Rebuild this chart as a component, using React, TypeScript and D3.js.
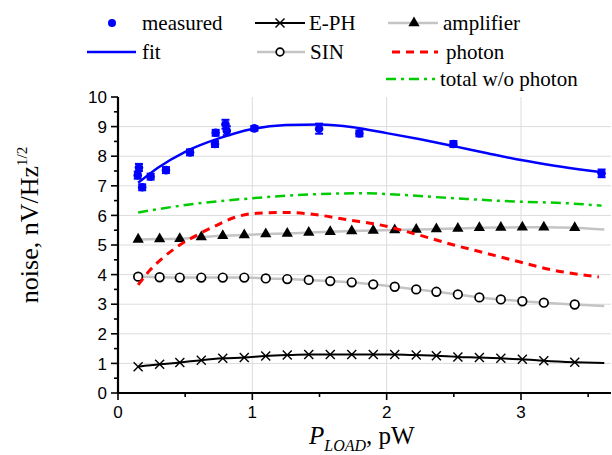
import React from 'react';
import * as d3 from 'd3';

// measured points (x in pW, y in nV/Hz^1/2, err = half error bar)
const measX = [0.147, 0.156, 0.18, 0.243, 0.357, 0.536, 0.722, 0.727, 0.8, 0.81, 1.015, 1.497, 1.797, 2.497, 3.6];
const measY = [7.36, 7.62, 6.95, 7.31, 7.53, 8.13, 8.41, 8.79, 9.08, 8.86, 8.94, 8.93, 8.77, 8.41, 7.42];
const measErr = [0.12, 0.12, 0.1, 0.1, 0.1, 0.1, 0.1, 0.1, 0.15, 0.15, 0.08, 0.17, 0.1, 0.1, 0.13];

// fit curve
const fitX = [0.15, 0.3, 0.5, 0.75, 1.0, 1.25, 1.5, 1.75, 2.0, 2.25, 2.5, 2.75, 3.0, 3.25, 3.5, 3.62];
const fitY = [7.1, 7.62, 8.15, 8.6, 8.92, 9.05, 9.07, 8.98, 8.78, 8.57, 8.34, 8.1, 7.87, 7.68, 7.52, 7.45];

// photon noise
const photonX = [0.15, 0.24, 0.33, 0.46, 0.59, 0.75, 0.86, 1.03, 1.25, 1.48, 1.71, 1.95, 2.2, 2.5, 2.69, 2.98, 3.23, 3.58];
const photonY = [3.65, 4.16, 4.55, 5.0, 5.34, 5.7, 5.92, 6.07, 6.1, 6.02, 5.85, 5.68, 5.39, 5.0, 4.78, 4.44, 4.16, 3.92];

// total w/o photon
const totalX = [0.15, 0.5, 1.0, 1.5, 1.85, 2.0, 2.5, 3.0, 3.3, 3.6];
const totalY = [6.1, 6.35, 6.58, 6.72, 6.75, 6.72, 6.58, 6.46, 6.42, 6.33];

// marker positions shared by amplifier / SIN / E-PH, plus end of line
const markX = [0.15, 0.31, 0.46, 0.62, 0.78, 0.94, 1.1, 1.26, 1.42, 1.58, 1.74, 1.9, 2.06, 2.22, 2.37, 2.53, 2.69, 2.85, 3.01, 3.17, 3.4];
const lineEndX = 3.62;
const ampY = [5.19, 5.2, 5.21, 5.27, 5.31, 5.34, 5.37, 5.39, 5.42, 5.45, 5.47, 5.49, 5.51, 5.52, 5.54, 5.56, 5.58, 5.59, 5.6, 5.6, 5.58];
const ampEnd = 5.52;
const sinY = [3.93, 3.91, 3.9, 3.9, 3.9, 3.9, 3.87, 3.85, 3.82, 3.78, 3.74, 3.67, 3.59, 3.5, 3.42, 3.33, 3.23, 3.16, 3.1, 3.05, 2.99];
const sinEnd = 2.94;
const ephY = [0.89, 0.97, 1.03, 1.11, 1.17, 1.2, 1.25, 1.28, 1.3, 1.3, 1.3, 1.3, 1.3, 1.28, 1.26, 1.22, 1.2, 1.17, 1.14, 1.09, 1.04];
const ephEnd = 1.01;

const xTicks = [0, 1, 2, 3];
const yTicks = [0, 1, 2, 3, 4, 5, 6, 7, 8, 9, 10];

const W = 612;
const H = 455;
const BLUE = '#0000ff';
const GRAY = '#c4c4c4';
const SERIF = '"Liberation Serif", "Times New Roman", serif';
const SANS = '"Liberation Sans", Arial, sans-serif';

const x = d3.scaleLinear().domain([0, 3.67]).range([118, 611]);
const y = d3.scaleLinear().domain([0, 10]).range([393, 97]);

const line = d3
  .line<[number, number]>()
  .x(d => x(d[0]))
  .y(d => y(d[1]))
  .curve(d3.curveMonotoneX);

const zip = (xs: number[], ys: number[]) => xs.map((v, i) => [v, ys[i]] as [number, number]);

const tri = d3.symbol().type(d3.symbolTriangle).size(55)();

const Cross = ({ cx, cy }: { cx: number; cy: number }) => (
  <g stroke="black" strokeWidth={1.4}>
    <line x1={cx - 4.5} y1={cy - 4.5} x2={cx + 4.5} y2={cy + 4.5} />
    <line x1={cx - 4.5} y1={cy + 4.5} x2={cx + 4.5} y2={cy - 4.5} />
  </g>
);

export default function App() {
  const yMinor = d3.range(0.5, 10, 1);
  const xMinor = [0.5, 1.5, 2.5, 3.5];

  return (
    <svg width={W} height={H} style={{ position: 'absolute', left: 0, top: 0, background: 'white' }}>
      {/* grid */}
      <g stroke="#dcdcdc" strokeWidth={1}>
        {d3.range(1, 10).map(t => (
          <line key={'gy' + t} x1={x(0)} x2={x(3.67)} y1={y(t)} y2={y(t)} />
        ))}
        {[1, 2, 3].map(t => (
          <line key={'gx' + t} x1={x(t)} x2={x(t)} y1={y(0)} y2={y(10)} />
        ))}
      </g>

      {/* E-PH */}
      <path d={line([...zip(markX, ephY), [lineEndX, ephEnd]]) || ''} fill="none" stroke="black" strokeWidth={2} />
      {markX.map((v, i) => (
        <Cross key={'e' + i} cx={x(v)} cy={y(ephY[i])} />
      ))}

      {/* SIN */}
      <path d={line([...zip(markX, sinY), [lineEndX, sinEnd]]) || ''} fill="none" stroke={GRAY} strokeWidth={2.5} />
      {markX.map((v, i) => (
        <circle key={'s' + i} cx={x(v)} cy={y(sinY[i])} r={4.3} fill="white" stroke="black" strokeWidth={1.7} />
      ))}

      {/* amplifier */}
      <path d={line([...zip(markX, ampY), [lineEndX, ampEnd]]) || ''} fill="none" stroke={GRAY} strokeWidth={2.5} />
      {markX.map((v, i) => (
        <path key={'a' + i} d={tri || ''} transform={`translate(${x(v)},${y(ampY[i])})`} fill="black" />
      ))}

      {/* photon */}
      <path d={line(zip(photonX, photonY)) || ''} fill="none" stroke="#ff0000" strokeWidth={3} strokeDasharray="8,6" />

      {/* total w/o photon */}
      <path d={line(zip(totalX, totalY)) || ''} fill="none" stroke="#00cc00" strokeWidth={2.5} strokeDasharray="10,5,3,5" />

      {/* fit */}
      <path d={line(zip(fitX, fitY)) || ''} fill="none" stroke={BLUE} strokeWidth={2.5} />

      {/* measured */}
      {measX.map((v, i) => (
        <g key={'m' + i} stroke={BLUE} fill={BLUE}>
          <line x1={x(v)} x2={x(v)} y1={y(measY[i] - measErr[i])} y2={y(measY[i] + measErr[i])} strokeWidth={2} />
          <line x1={x(v) - 4} x2={x(v) + 4} y1={y(measY[i] - measErr[i])} y2={y(measY[i] - measErr[i])} strokeWidth={2} />
          <line x1={x(v) - 4} x2={x(v) + 4} y1={y(measY[i] + measErr[i])} y2={y(measY[i] + measErr[i])} strokeWidth={2} />
          <circle cx={x(v)} cy={y(measY[i])} r={4.3} stroke="none" />
        </g>
      ))}

      {/* axes */}
      <g stroke="black">
        <line x1={x(0)} x2={x(0)} y1={y(0) + 1} y2={y(10)} strokeWidth={2.2} />
        <line x1={x(0) - 1} x2={x(3.67)} y1={y(0)} y2={y(0)} strokeWidth={2.2} />
        {yTicks.map(t => (
          <line key={'yt' + t} x1={x(0) - 7} x2={x(0)} y1={y(t)} y2={y(t)} strokeWidth={1.6} />
        ))}
        {yMinor.map(t => (
          <line key={'ym' + t} x1={x(0) - 4} x2={x(0)} y1={y(t)} y2={y(t)} strokeWidth={1.6} />
        ))}
        {xTicks.map(t => (
          <line key={'xt' + t} x1={x(t)} x2={x(t)} y1={y(0)} y2={y(0) + 7} strokeWidth={1.6} />
        ))}
        {xMinor.map(t => (
          <line key={'xm' + t} x1={x(t)} x2={x(t)} y1={y(0)} y2={y(0) + 4} strokeWidth={1.6} />
        ))}
      </g>
      <g fontFamily={SANS} fontSize={17} fill="black">
        {yTicks.map(t => (
          <text key={'yl' + t} x={x(0) - 11} y={y(t)} dy="0.36em" textAnchor="end">
            {t}
          </text>
        ))}
        {xTicks.map(t => (
          <text key={'xl' + t} x={x(t)} y={y(0) + 25} textAnchor="middle">
            {t}
          </text>
        ))}
      </g>

      {/* axis titles */}
      <text x={309} y={444} fontFamily={SERIF} fontSize={25} fill="black">
        <tspan fontStyle="italic">P</tspan>
        <tspan fontStyle="italic" fontSize={16} dy={7}>LOAD</tspan>
        <tspan dy={-7}>, pW</tspan>
      </text>
      <text transform="translate(38,225) rotate(-90)" textAnchor="middle" fontFamily={SERIF} fontSize={26} fill="black">
        noise, nV/Hz
        <tspan fontSize={15} dy={-11}>1/2</tspan>
      </text>

      {/* legend */}
      <g fontFamily={SERIF} fontSize={21} fill="black">
        <circle cx={112} cy={23} r={4} fill={BLUE} />
        <text x={142} y={30}>measured</text>
        <line x1={87} x2={136} y1={52} y2={52} stroke={BLUE} strokeWidth={2.5} />
        <text x={142} y={59}>fit</text>

        <line x1={255} x2={305} y1={23} y2={23} stroke="black" strokeWidth={2} />
        <Cross cx={280} cy={23} />
        <text x={309} y={30}>E-PH</text>
        <line x1={257} x2={305} y1={52} y2={52} stroke={GRAY} strokeWidth={2.5} />
        <circle cx={280} cy={52} r={3.8} fill="white" stroke="black" strokeWidth={1.7} />
        <text x={310} y={59}>SIN</text>

        <line x1={388} x2={438} y1={23} y2={23} stroke={GRAY} strokeWidth={2.5} />
        <path d={tri || ''} transform="translate(414,23)" fill="black" />
        <text x={443} y={30}>amplifier</text>
        <line x1={392} x2={438} y1={52} y2={52} stroke="#ff0000" strokeWidth={3} strokeDasharray="8,6" />
        <text x={446} y={59}>photon</text>
        <line x1={386} x2={435} y1={79} y2={79} stroke="#00cc00" strokeWidth={2.5} strokeDasharray="10,5,3,5" />
        <text x={440} y={86}>total w/o photon</text>
      </g>
    </svg>
  );
}
